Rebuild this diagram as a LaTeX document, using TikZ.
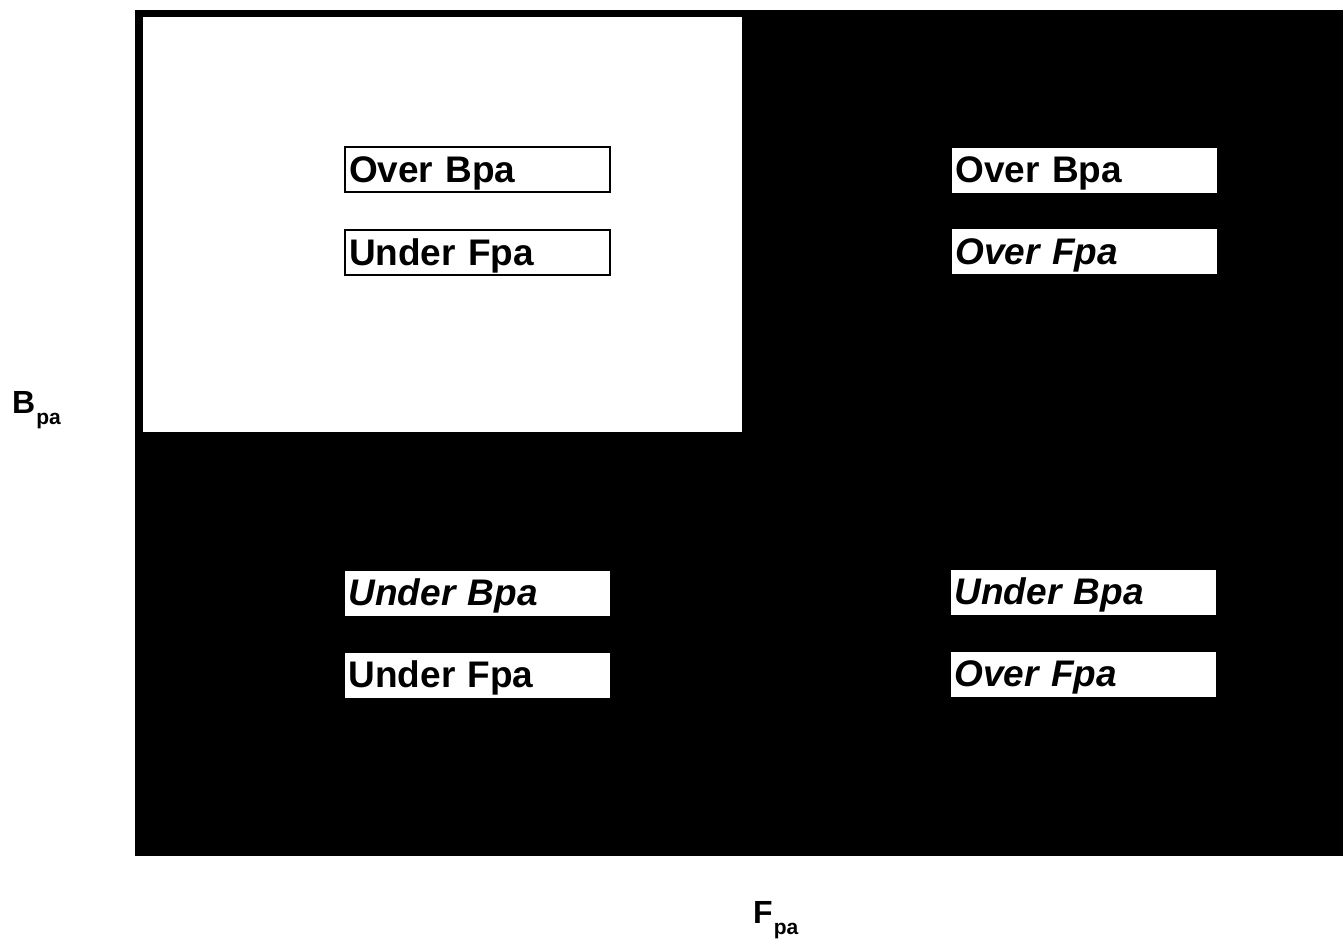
\documentclass[tikz,border=0pt]{standalone}
\usepackage{fontspec}
\setmainfont{Liberation Sans}
\usepackage{tikz}
\usetikzlibrary{positioning, calc}

\tikzset{
    tag/.style={fill=white, minimum width=265pt, minimum height=45pt, text width=257pt, text height=30pt, text depth=5pt, inner sep=4pt, align=left, font=\fontsize{37}{40}\selectfont\bfseries},
    tagframed/.style={tag, draw=black, line width=2pt},
    axislabel/.style={font=\fontsize{32}{34}\selectfont\bfseries, inner sep=0pt}
}
\newcommand{\lowsub}[1]{\kern1pt\raisebox{-11pt}{\fontsize{21}{23}\selectfont #1}}

\begin{document}
\begin{tikzpicture}[x=1pt, y=-1pt]
    \useasboundingbox (0,0) rectangle (1343,939);

    % Plane: black field with the white quadrant
    \fill [black] (135,10) rectangle (1343,856);
    \fill [white] (143,17) rectangle (742,432);

    % Top left quadrant
    \node [tagframed] (tlb) at (477.5,169.5) {Over Bpa};
    \node [tagframed] (tlf) at (477.5,252.5) {Under Fpa};

    % Top right quadrant
    \node [tag] (trb) at (1084,170) {Over Bpa};
    \node [tag] (trf) at (1084,251.5) {\itshape Over Fpa};

    % Bottom left quadrant
    \node [tag] (blb) at (477,593) {\itshape Under Bpa};
    \node [tag] (blf) at (477,675) {Under Fpa};

    % Bottom right quadrant
    \node [tag] (brb) at (1083,592) {\itshape Under Bpa};
    \node [tag] (brf) at (1083,674) {\itshape Over Fpa};

    % Axis labels
    \node [axislabel, anchor=base west] (bpa) at (12,413) {B\lowsub{pa}};
    \node [axislabel, anchor=base west] (fpa) at (753,923) {F\lowsub{pa}};

\end{tikzpicture}
\end{document}
